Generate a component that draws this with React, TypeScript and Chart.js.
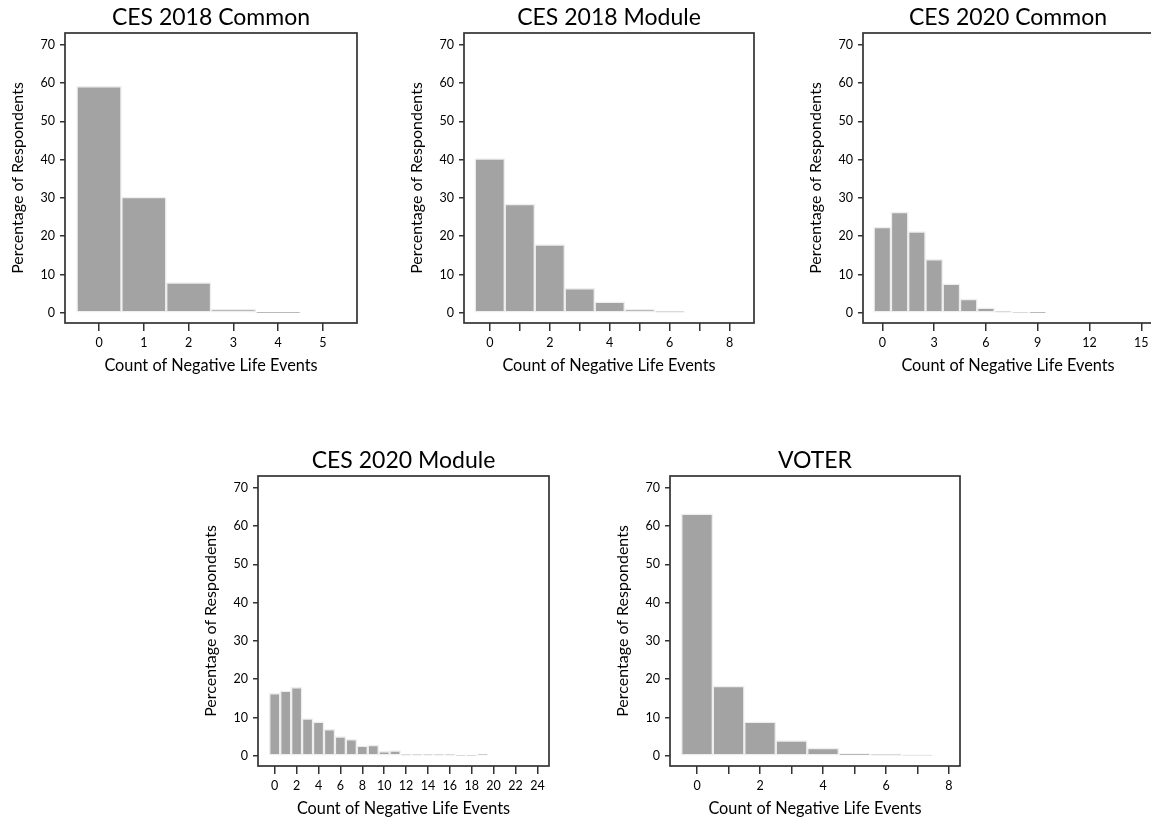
import React, { useEffect, useRef } from 'react';
import { Chart, registerables } from 'chart.js';

Chart.register(...registerables);

// ---------- data ----------
const CES2018_COMMON_COUNTS = [0, 1, 2, 3, 4];
const CES2018_COMMON_PCT = [59.1, 30.2, 7.9, 1.0, 0.05];
const CES2018_COMMON_X_TICKS = [0, 1, 2, 3, 4, 5];
const CES2018_COMMON_X_LABELS = [0, 1, 2, 3, 4, 5];

const CES2018_MODULE_COUNTS = [0, 1, 2, 3, 4, 5, 6];
const CES2018_MODULE_PCT = [40.3, 28.4, 17.8, 6.4, 2.9, 1.0, 0.3];
const CES2018_MODULE_X_TICKS = [0, 1, 2, 3, 4, 5, 6, 7, 8];
const CES2018_MODULE_X_LABELS = [0, 2, 4, 6, 8];

const CES2020_COMMON_COUNTS = [0, 1, 2, 3, 4, 5, 6, 7, 8, 9];
const CES2020_COMMON_PCT = [22.4, 26.3, 21.2, 14.0, 7.6, 3.6, 1.3, 0.3, 0.1, 0.05];
const CES2020_COMMON_X_TICKS = [0, 3, 6, 9, 12, 15];
const CES2020_COMMON_X_LABELS = [0, 3, 6, 9, 12, 15];

const CES2020_MODULE_COUNTS = [0, 1, 2, 3, 4, 5, 6, 7, 8, 9, 10, 11, 12, 13, 14, 15, 16, 17, 18, 19];
const CES2020_MODULE_PCT = [16.3, 17.0, 17.9, 9.7, 8.9, 6.9, 5.0, 4.3, 2.6, 2.8, 1.2, 1.4, 0.3, 0.3, 0.3, 0.3, 0.3, 0.1, 0.1, 0.4];
const CES2020_MODULE_X_TICKS = [0, 2, 4, 6, 8, 10, 12, 14, 16, 18, 20, 22, 24];
const CES2020_MODULE_X_LABELS = [0, 2, 4, 6, 8, 10, 12, 14, 16, 18, 20, 22, 24];

const VOTER_COUNTS = [0, 1, 2, 3, 4, 5, 6, 7];
const VOTER_PCT = [63.2, 18.2, 8.9, 4.0, 2.0, 0.6, 0.3, 0.2];
const VOTER_X_TICKS = [0, 1, 2, 3, 4, 5, 6, 7, 8];
const VOTER_X_LABELS = [0, 2, 4, 6, 8];

const Y_TICKS = [0, 10, 20, 30, 40, 50, 60, 70];

const X_TITLE = 'Count of Negative Life Events';
const Y_TITLE = 'Percentage of Respondents';

// ---------- layout / style ----------
const FONT = 'Lato, "Open Sans", "DejaVu Sans", sans-serif';
const Y_AXIS_W = 65;
const TITLE_H = 33;
const X_AXIS_H = 56;
const PLOT_H = 290;
const PAD_R = 15;
const Y_MIN = -2.65;
const Y_MAX = 73.05;

type PanelCfg = {
  title: string;
  counts: number[];
  values: number[];
  xTicks: number[];
  xLabels: number[];
  xMin: number;
  xMax: number;
  left: number;
  top: number;
  plotW: number;
};

const PANELS: PanelCfg[] = [
  { title: 'CES 2018 Common', counts: CES2018_COMMON_COUNTS, values: CES2018_COMMON_PCT, xTicks: CES2018_COMMON_X_TICKS, xLabels: CES2018_COMMON_X_LABELS, xMin: -0.76, xMax: 5.76, left: 0, top: 0, plotW: 292 },
  { title: 'CES 2018 Module', counts: CES2018_MODULE_COUNTS, values: CES2018_MODULE_PCT, xTicks: CES2018_MODULE_X_TICKS, xLabels: CES2018_MODULE_X_LABELS, xMin: -0.86, xMax: 8.81, left: 399, top: 0, plotW: 290 },
  { title: 'CES 2020 Common', counts: CES2020_COMMON_COUNTS, values: CES2020_COMMON_PCT, xTicks: CES2020_COMMON_X_TICKS, xLabels: CES2020_COMMON_X_LABELS, xMin: -1.12, xMax: 15.68, left: 798, top: 0, plotW: 290 },
  { title: 'CES 2020 Module', counts: CES2020_MODULE_COUNTS, values: CES2020_MODULE_PCT, xTicks: CES2020_MODULE_X_TICKS, xLabels: CES2020_MODULE_X_LABELS, xMin: -1.53, xMax: 25.06, left: 193, top: 443, plotW: 291 },
  { title: 'VOTER', counts: VOTER_COUNTS, values: VOTER_PCT, xTicks: VOTER_X_TICKS, xLabels: VOTER_X_LABELS, xMin: -0.86, xMax: 8.35, left: 605, top: 443, plotW: 290 },
];

const framePlugin = {
  id: 'frame',
  afterDraw(chart: any) {
    const { ctx, chartArea: a } = chart;
    ctx.save();
    ctx.strokeStyle = '#333333';
    ctx.lineWidth = 1.7;
    ctx.strokeRect(a.left, a.top, a.right - a.left, a.bottom - a.top);
    ctx.restore();
  },
};

function Panel({ cfg }: { cfg: PanelCfg }) {
  const ref = useRef<HTMLCanvasElement>(null);
  const w = Y_AXIS_W + cfg.plotW + PAD_R;
  const h = TITLE_H + PLOT_H + X_AXIS_H;

  useEffect(() => {
    const chart = new Chart(ref.current as HTMLCanvasElement, {
      type: 'bar',
      data: {
        datasets: [
          {
            data: cfg.counts.map((c, i) => ({ x: c, y: cfg.values[i] })),
            backgroundColor: '#a3a3a3',
            borderColor: '#eeeeee',
            borderWidth: 1.5,
            borderSkipped: false,
            categoryPercentage: 1,
            barPercentage: 1,
          } as any,
        ],
      },
      options: {
        animation: false,
        responsive: false,
        maintainAspectRatio: false,
        layout: { padding: { left: 0, top: 0, right: PAD_R, bottom: 0 } },
        plugins: {
          legend: { display: false },
          tooltip: { enabled: false },
          title: {
            display: true,
            text: cfg.title,
            fullSize: false,
            color: '#000',
            font: { family: FONT, size: 23, weight: 'normal' as any, lineHeight: 1.2 },
            padding: { top: 3.5, bottom: 1.9 },
          },
        },
        scales: {
          x: {
            type: 'linear',
            min: cfg.xMin,
            max: cfg.xMax,
            offset: false,
            afterBuildTicks: (s: any) => {
              s.ticks = cfg.xTicks.map((v) => ({ value: v }));
            },
            afterFit: (s: any) => {
              s.height = X_AXIS_H;
            },
            grid: {
              display: true,
              offset: false,
              drawOnChartArea: false,
              drawTicks: true,
              tickLength: 8,
              color: '#333',
              lineWidth: 1.5,
            },
            border: { display: false },
            ticks: {
              autoSkip: false,
              maxRotation: 0,
              padding: 4,
              color: '#000',
              font: { family: FONT, size: 12.5 },
              callback: (v: any) => (cfg.xLabels.includes(Number(v)) ? String(v) : ''),
            },
            title: {
              display: true,
              text: X_TITLE,
              color: '#000',
              font: { family: FONT, size: 16.3, lineHeight: 1.2 },
              padding: { top: 0, bottom: 3.5 },
            },
          } as any,
          y: {
            type: 'linear',
            min: Y_MIN,
            max: Y_MAX,
            afterBuildTicks: (s: any) => {
              s.ticks = Y_TICKS.map((v) => ({ value: v }));
            },
            afterFit: (s: any) => {
              s.width = Y_AXIS_W;
            },
            grid: {
              display: true,
              drawOnChartArea: false,
              drawTicks: true,
              tickLength: 5,
              color: '#333',
              lineWidth: 1.5,
            },
            border: { display: false },
            ticks: {
              padding: 5,
              color: '#000',
              font: { family: FONT, size: 12.5 },
              callback: (v: any) => String(v),
            },
            title: {
              display: true,
              text: Y_TITLE,
              color: '#000',
              font: { family: FONT, size: 16, lineHeight: 1.2 },
              padding: { top: 8, bottom: 0 },
            },
          } as any,
        },
      },
      plugins: [framePlugin],
    });
    return () => chart.destroy();
  }, [cfg]);

  return (
    <canvas
      ref={ref}
      width={w}
      height={h}
      style={{ position: 'absolute', left: cfg.left, top: cfg.top, width: w, height: h }}
    />
  );
}

export default function App() {
  return (
    <div
      style={{
        position: 'absolute',
        left: 0,
        top: 0,
        width: 1151,
        height: 820,
        overflow: 'hidden',
        background: '#fff',
      }}
    >
      {PANELS.map((p) => (
        <Panel key={p.title} cfg={p} />
      ))}
    </div>
  );
}
